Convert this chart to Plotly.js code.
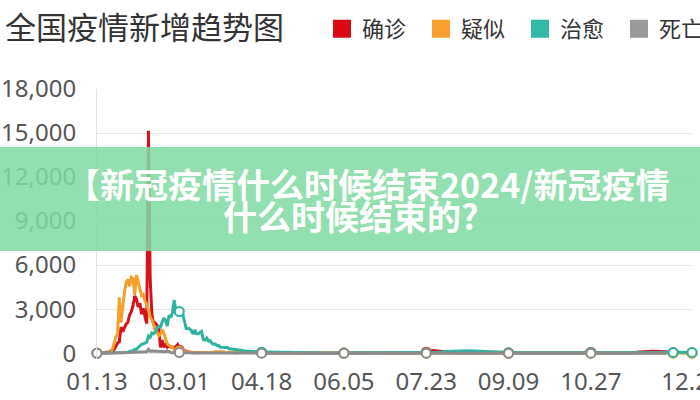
<!DOCTYPE html>
<html>
<head>
<meta charset="utf-8">
<script src="https://cdn.plot.ly/plotly-3.0.1.min.js"></script>
<style>
html,body{margin:0;padding:0;background:#fff;}
#chart{width:700px;height:400px;}
</style>
</head>
<body>
<div id="chart"></div>
<script>
// ---------------- DATA ----------------
const chartTitle = '全国疫情新增趋势图';
const seriesNames = ['确诊', '疑似', '治愈', '死亡'];
const startDate = '2020-01-13';
// daily values 01.13 - 04.02, then one value every 4 days 04.06 - 12.22, then 12.25
const confirmed = [
  0,0,0,4,17,59,77,77,149,131,259,444,688,769,1771,1459,1737,1982,2102,2590,
  2829,3235,3887,3694,3143,3399,2656,3062,2478,2015,15152,5090,2641,2009,2048,1886,1749,394,889,397,
  648,409,508,406,433,327,427,573,202,125,119,139,143,99,44,40,19,24,15,8,
  11,20,16,21,13,34,39,41,46,39,78,47,67,55,54,45,31,48,36,35,31,
  39,42,89,27,30,11,4,3,1,7,5,2,11,2,16,5,3,57,28,26,
  13,19,5,7,7,6,22,60,180,120,36,23,25,22,22,16,9,10,10,7,
  10,32,9,12,14,20,12,21,13,13,28,42,25,24,16,8,16,16,80,110,
  120,110,90,20,27,15,14
];
const suspected = [
  0,0,0,0,0,0,0,27,120,257,680,1118,1309,3806,2077,3248,4148,4812,5019,4562,
  5173,5072,3971,5328,4833,4214,3916,4008,3536,3342,2807,2450,2277,1918,1563,1432,1185,1277,1614,1361,
  882,620,530,452,439,248,259,132,141,129,143,143,102,123,99,60,36,31,33,33,
  17,39,41,45,21,45,61,41,49,87,68,76,93,82,66,40,43,29,64,32,49,
  58,72,52,37,14,11,7,4,2,3,2,2,1,2,3,2,1,6,9,5,
  3,2,1,2,1,1,2,3,5,4,3,2,2,1,1,1,0,1,0,1,
  1,0,1,0,1,0,1,2,1,0,1,2,1,0,1,0,1,1,2,1,
  1,2,1,1,2,1,1
];
const recovered = [
  0,0,0,0,0,0,2,0,3,6,6,3,11,2,9,43,21,47,72,85,
  147,157,262,261,387,510,600,632,716,744,1171,1081,1373,1323,1425,1701,1824,1779,2109,2393,
  2229,1846,2589,2422,2750,3622,2885,2623,2837,2742,2652,2189,1681,1678,1661,1535,1297,1578,1318,1318,
  1430,1476,930,893,1022,821,845,668,605,622,510,513,401,389,359,349,380,294,285,281,226,
  190,120,100,63,70,60,55,40,20,12,8,10,6,5,6,5,4,6,10,18,
  30,25,20,15,10,10,12,15,20,60,110,130,150,160,140,120,90,50,30,20,
  15,18,20,15,18,20,16,22,18,15,20,25,30,28,25,22,20,25,30,35,
  40,45,40,50,55,60,50
];
const deaths = [
  0,0,0,0,0,0,1,3,3,8,8,16,15,24,26,26,38,43,46,45,
  57,64,65,73,73,86,89,97,108,97,254,121,143,142,105,98,136,114,118,109,
  97,150,71,52,29,44,47,35,42,31,38,31,30,28,27,22,17,22,11,7,
  13,10,14,13,11,8,3,7,6,9,7,4,6,5,3,5,4,1,7,6,6,
  1,1,0,0,0,0,0,0,0,0,0,0,0,0,0,0,0,0,0,0,
  0,0,0,0,0,0,0,0,1,1,0,0,0,0,0,0,0,0,0,0,
  0,0,0,0,0,0,0,0,0,0,0,0,0,0,0,0,0,0,0,0,
  0,0,0,null,null,null,null
];
const tickLabels = ['01.13','03.01','04.18','06.05','07.23','09.09','10.27','12.25'];
const markerLabels = ['01.13','03.01','04.18','06.05','07.23','09.09','10.27','12.14','12.25'];
const yTicks = [0,3000,6000,9000,12000,15000,18000];
const bannerLines = ['【新冠疫情什么时候结束2024/新冠疫情', '什么时候结束的?'];

// ---------------- STYLE ----------------
const lineColors = ['#d3141c', '#f4a02a', '#2db3a0', '#8c8c8c'];
const legendColors = ['#da0a12', '#f7a02e', '#32b8a6', '#9a9a9a'];
const W = 700, H = 400;
const M = {l: 97, r: 8, t: 89, b: 41};
const plotW = W - M.l - M.r, plotH = H - M.t - M.b;
const px = x => (x - M.l) / plotW;
const py = y => (H - M.b - y) / plotH;

// ---------------- X DATES ----------------
const DAY = 86400000;
const t0 = Date.parse(startDate + 'T00:00:00Z');
const iso = d => new Date(t0 + d * DAY).toISOString().slice(0, 10);
const offsets = [];
for (let d = 0; d <= 80; d++) offsets.push(d);
for (let d = 84; d <= 344; d += 4) offsets.push(d);
offsets.push(347);
const dates = offsets.map(iso);
const mmdd = s => '2020-' + s.replace('.', '-');

const allSeries = [confirmed, suspected, recovered, deaths];
const traces = [];
allSeries.forEach((vals, i) => {
  traces.push({
    type: 'scatter', mode: 'lines', x: dates, y: vals, name: seriesNames[i],
    legendgroup: seriesNames[i], showlegend: false, connectgaps: false,
    line: {color: lineColors[i], width: 3}, hoverinfo: 'x+y'
  });
});
const markerDates = markerLabels.map(mmdd);
allSeries.forEach((vals, i) => {
  const mx = [], my = [];
  dates.forEach((d, k) => {
    if (markerDates.includes(d) && vals[k] !== null) { mx.push(d); my.push(vals[k]); }
  });
  traces.push({
    type: 'scatter', mode: 'markers', x: mx, y: my, name: seriesNames[i],
    legendgroup: seriesNames[i], showlegend: false, cliponaxis: false,
    marker: {symbol: 'circle', size: 9, color: '#ffffff', line: {color: lineColors[i], width: 2}},
    hoverinfo: 'skip'
  });
});
seriesNames.forEach((n, i) => {
  traces.push({
    type: 'scatter', mode: 'markers', x: [null], y: [null], name: n, legendgroup: n,
    showlegend: true,
    marker: {symbol: 'square', size: 16, color: legendColors[i], line: {color: legendColors[i], width: 2}}
  });
});

const layout = {
  width: W, height: H,
  margin: {l: M.l, r: M.r, t: M.t, b: M.b, pad: 0},
  paper_bgcolor: '#ffffff', plot_bgcolor: '#ffffff',
  title: {
    text: chartTitle,
    font: {family: 'Noto Sans CJK SC', size: 31, color: '#333333'},
    xref: 'container', x: 5 / W, xanchor: 'left',
    yref: 'container', y: 1 - 28 / H, yanchor: 'middle'
  },
  showlegend: true,
  legend: {
    orientation: 'h', xref: 'container', yref: 'container',
    x: 322 / W, xanchor: 'left', y: 1 - 29 / H, yanchor: 'middle',
    font: {family: 'Noto Sans CJK SC', size: 22, color: '#333333'},
    entrywidthmode: 'pixels', entrywidth: 54, bgcolor: 'rgba(0,0,0,0)', borderwidth: 0,
    traceorder: 'normal'
  },
  xaxis: {
    type: 'date', range: [iso(0), iso(347)],
    tickmode: 'array', tickvals: tickLabels.map(mmdd), ticktext: tickLabels,
    showgrid: false, zeroline: false, showline: false, ticks: '',
    tickfont: {family: 'Noto Sans', size: 24, color: '#555555'},
    ticklabelstandoff: 6, ticklabeloverflow: 'allow', fixedrange: true
  },
  yaxis: {
    range: [-400, 18000], tickmode: 'array', tickvals: yTicks, tickformat: ',d',
    showgrid: true, gridcolor: '#e6e6e6', gridwidth: 1, zeroline: false,
    showline: true, linecolor: '#e2e2e2', linewidth: 1, ticks: '',
    tickfont: {family: 'Noto Sans', size: 24, color: '#555555'},
    ticklabelstandoff: 15, fixedrange: true
  },
  shapes: [{
    type: 'rect', xref: 'paper', yref: 'paper', layer: 'above',
    x0: px(-5), x1: px(705), y0: py(251), y1: py(147),
    fillcolor: 'rgba(127,218,162,0.85)', line: {width: 0}
  }],
  annotations: [
    {xref: 'paper', yref: 'paper', x: px(367), y: py(183), xanchor: 'center', yanchor: 'middle',
     text: bannerLines[0], showarrow: false,
     font: {family: 'Noto Sans CJK SC', size: 34, color: '#ffffff', weight: 'bold'}},
    {xref: 'paper', yref: 'paper', x: px(350), y: py(215), xanchor: 'center', yanchor: 'middle',
     text: bannerLines[1], showarrow: false,
     font: {family: 'Noto Sans CJK SC', size: 34, color: '#ffffff', weight: 'bold'}}
  ]
};

Plotly.newPlot('chart', traces, layout, {displayModeBar: false, staticPlot: true});
</script>
</body>
</html>
